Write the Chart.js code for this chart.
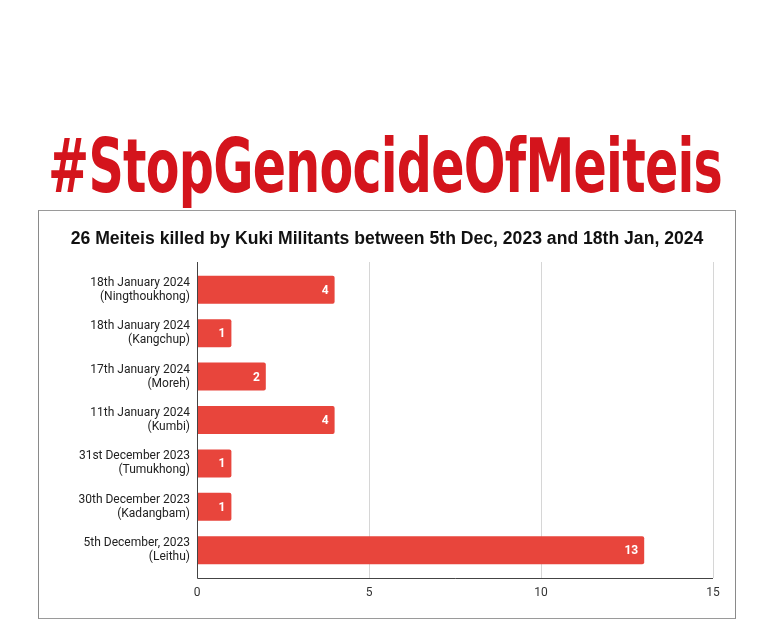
<!DOCTYPE html>
<html>
<head>
<meta charset="utf-8">
<script src="https://cdn.jsdelivr.net/npm/chart.js@4.4.1/dist/chart.umd.min.js"></script>
<style>
  body { margin: 0; background: #fff; width: 772px; height: 642px; position: relative; overflow: hidden; }
  #headline {
    position: absolute; left: 48px; top: 123px; margin: 0;
    font-family: "Liberation Sans Narrow", "DejaVu Sans Condensed", "Liberation Sans", sans-serif;
    font-weight: bold; font-size: 74px; color: #d4141c; white-space: nowrap;
    transform-origin: 0 0; letter-spacing: -1px;
  }
  #card {
    position: absolute; left: 38px; top: 210px; width: 696px; height: 407px;
    border-top: 1px solid #9a9a9a; border-bottom: 1px solid #9a9a9a;
    border-left: 1px solid #8a8a8a; border-right: 1px solid #8a8a8a;
  }
  #wrap { position: absolute; left: 1px; top: 1px; width: 694px; height: 404px; }
</style>
</head>
<body>
<h1 id="headline">#StopGenocideOfMeiteis</h1>
<div id="card"><div id="wrap"><canvas id="chart"></canvas></div></div>
<script>
const chartTitle = "26 Meiteis killed by Kuki Militants between 5th Dec, 2023 and 18th Jan, 2024";
const incidents = [
    ["18th January 2024", "(Ningthoukhong)"],
    ["18th January 2024", "(Kangchup)"],
    ["17th January 2024", "(Moreh)"],
    ["11th January 2024", "(Kumbi)"],
    ["31st December 2023", "(Tumukhong)"],
    ["30th December 2023", "(Kadangbam)"],
    ["5th December, 2023", "(Leithu)"]
];
const killed = [4, 1, 2, 4, 1, 1, 13];
const xTicks = [0, 5, 10, 15];

// stretch the headline to the width it has in the poster
const head = document.getElementById("headline");
const w = head.getBoundingClientRect().width;
head.style.transform = `scaleX(${674 / w})`;

// the plot frame is a bit taller than the bar bands
const frameExtra = 6;

const barLabels = {
    id: "barLabels",
    afterDatasetsDraw(chart) {
        const ctx = chart.ctx;
        const meta = chart.getDatasetMeta(0);
        ctx.save();
        ctx.fillStyle = "#ffffff";
        ctx.font = "bold 12px Roboto, 'Liberation Sans', sans-serif";
        ctx.textAlign = "right";
        ctx.textBaseline = "middle";
        meta.data.forEach((bar, i) => {
            ctx.fillText(String(killed[i]), bar.x - 6, bar.y + 1);
        });
        ctx.restore();
    }
};

const frame = {
    id: "frame",
    beforeDatasetsDraw(chart) {
        const a = chart.chartArea;
        const xs = chart.scales.x;
        const ctx = chart.ctx;
        ctx.save();
        ctx.strokeStyle = "#d6d6d6";
        ctx.lineWidth = 1;
        xTicks.slice(1).forEach(v => {
            const px = Math.round(xs.getPixelForValue(v)) + 0.5;
            ctx.beginPath();
            ctx.moveTo(px, a.top - frameExtra);
            ctx.lineTo(px, a.bottom + frameExtra);
            ctx.stroke();
        });
        ctx.restore();
    },
    afterDraw(chart) {
        const a = chart.chartArea;
        const ctx = chart.ctx;
        ctx.save();
        ctx.strokeStyle = "#444";
        ctx.lineWidth = 1;
        ctx.beginPath();
        ctx.moveTo(Math.round(a.left) + 0.5, a.top - frameExtra);
        ctx.lineTo(Math.round(a.left) + 0.5, a.bottom + frameExtra + 0.5);
        ctx.lineTo(a.right, a.bottom + frameExtra + 0.5);
        ctx.stroke();
        ctx.restore();
    }
};

new Chart(document.getElementById("chart"), {
    type: 'bar',
    data: {
        labels: incidents,
        datasets: [{
            data: killed,
            backgroundColor: "#e8453c",
            borderRadius: 2,
            borderSkipped: 'left',
            categoryPercentage: 0.645,
            barPercentage: 1
        }]
    },
    options: {
        indexAxis: 'y',
        responsive: true,
        maintainAspectRatio: false,
        animation: false,
        layout: { padding: { left: 21, right: 21, top: frameExtra, bottom: 0 } },
        scales: {
            x: {
                min: 0,
                max: 15,
                afterBuildTicks: (scale) => { scale.ticks = xTicks.map(v => ({ value: v })); },
                afterFit: (scale) => { scale.height = 44; },
                grid: { display: false },
                border: { display: false },
                ticks: {
                    padding: 6,
                    color: "#333",
                    font: { family: "Roboto, 'Liberation Sans', sans-serif", size: 12 }
                }
            },
            y: {
                afterFit: (scale) => { scale.width = 136; },
                grid: { display: false, drawTicks: false },
                border: { display: false },
                ticks: {
                    padding: 7,
                    color: "#222",
                    crossAlign: 'near',
                    font: { family: "Roboto, 'Liberation Sans', sans-serif", size: 12, lineHeight: 1.17 }
                }
            }
        },
        plugins: {
            legend: { display: false },
            tooltip: { enabled: false },
            title: {
                display: true,
                text: chartTitle,
                color: "#111",
                font: { family: "'Liberation Sans', Arial, sans-serif", size: 17.6, weight: 'bold', lineHeight: 1.2 },
                padding: { top: 10.4, bottom: 18.5 }
            }
        }
    },
    plugins: [barLabels, frame]
});
</script>
</body>
</html>
